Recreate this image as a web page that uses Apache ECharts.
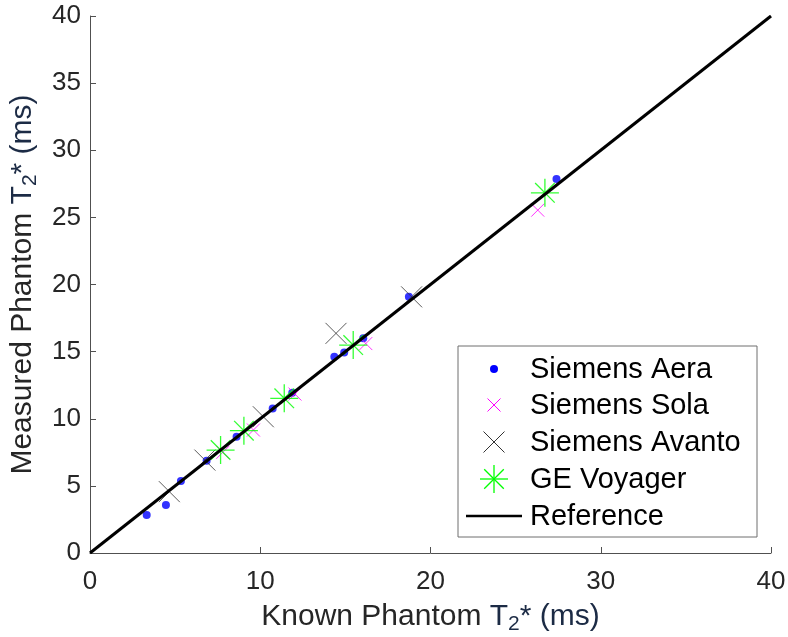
<!DOCTYPE html>
<html><head><meta charset="utf-8">
<script src="https://cdn.jsdelivr.net/npm/echarts@6/dist/echarts.min.js"></script>
<style>html,body{margin:0;padding:0;background:#fff}#c{width:788px;height:637px}</style>
</head><body><div id="c"></div>
<script>
const seriesNames = ['Siemens Aera', 'Siemens Sola', 'Siemens Avanto', 'GE Voyager', 'Reference'];
const xTicks = [0, 10, 20, 30, 40];
const yTicks = [0, 5, 10, 15, 20, 25, 30, 35, 40];
const aeraKnown    = [3.33, 4.46, 5.34, 6.85, 8.61, 10.73, 11.88, 14.35, 14.93, 16.05, 18.73, 27.40];
const aeraMeasured = [2.83, 3.57, 5.36, 6.87, 8.66, 10.77, 11.94, 14.62, 14.94, 15.99, 19.08, 27.85];
const solaKnown    = [7.80, 9.60, 12.04, 16.20, 26.30];
const solaMeasured = [7.50, 9.16, 11.84, 15.60, 25.54];
const avantoKnown    = [4.66, 6.75, 10.18, 14.45, 18.89];
const avantoMeasured = [4.57, 6.92, 10.15, 16.36, 19.08];
const geKnown    = [7.67, 9.04, 11.41, 15.46, 26.72];
const geMeasured = [7.67, 9.11, 11.52, 15.49, 26.83];
const refKnown    = [0, 40];
const refMeasured = [0, 40];

const zip = (a, b) => a.map((v, i) => [v, b[i]]);
const XPATH = 'path://M0,0L10,10M10,0L0,10';
const STARPATH = 'path://M0,-10L0,10M-10,0L10,0M-7,-7L7,7M7,-7L-7,7';
const FONT = 'Liberation Sans';
const DARK = '#262626';
const NAVY = '#1c2b45';
const AXIS = '#505050';

const chart = echarts.init(document.getElementById('c'), null, {renderer: 'canvas'});

const titleRich = {
  a: {fontFamily: FONT, fontSize: 30, color: DARK, lineHeight: 36, verticalAlign: 'middle'},
  b: {fontFamily: FONT, fontSize: 30, color: NAVY, lineHeight: 36, verticalAlign: 'middle'},
  s: {fontFamily: FONT, fontSize: 21, color: NAVY, lineHeight: 14, verticalAlign: 'bottom'}
};

// legend drawn as graphic elements
const legendX = 458, legendY = 346, legendW = 299, legendH = 191;
const rowY = [369, 405, 442, 479, 516];
const mk = 494;
function seg(x1, y1, x2, y2, color, w) {
  return {type: 'line', shape: {x1, y1, x2, y2}, style: {stroke: color, lineWidth: w}, z: 101};
}
const graphics = [
  {type: 'rect', shape: {x: legendX, y: legendY, width: legendW, height: legendH},
   style: {fill: '#fff', stroke: '#6e6e6e', lineWidth: 1}, z: 100},
  {type: 'circle', shape: {cx: mk, cy: rowY[0], r: 4}, style: {fill: '#0000ff'}, z: 101},
  seg(mk - 6.5, rowY[1] - 6.5, mk + 6.5, rowY[1] + 6.5, '#ff00ff', 1),
  seg(mk + 6.5, rowY[1] - 6.5, mk - 6.5, rowY[1] + 6.5, '#ff00ff', 1),
  seg(mk - 10.5, rowY[2] - 10.5, mk + 10.5, rowY[2] + 10.5, '#333333', 1),
  seg(mk + 10.5, rowY[2] - 10.5, mk - 10.5, rowY[2] + 10.5, '#333333', 1),
  seg(mk, rowY[3] - 14, mk, rowY[3] + 14, '#00ff00', 1.3),
  seg(mk - 14, rowY[3], mk + 14, rowY[3], '#00ff00', 1.3),
  seg(mk - 9.8, rowY[3] - 9.8, mk + 9.8, rowY[3] + 9.8, '#00ff00', 1.3),
  seg(mk + 9.8, rowY[3] - 9.8, mk - 9.8, rowY[3] + 9.8, '#00ff00', 1.3),
  seg(466, rowY[4], 522, rowY[4], '#000000', 2.5)
];
seriesNames.forEach((n, i) => {
  graphics.push({type: 'text', x: 530, y: rowY[i] + 1, z: 102,
    style: {text: n, fontFamily: FONT, fontSize: 29, fill: '#000', verticalAlign: 'middle', align: 'left'}});
});

chart.setOption({
  animation: false,
  backgroundColor: '#fff',
  grid: {left: 90, right: 17, top: 16, bottom: 84, containLabel: false, outerBoundsMode: 'none'},
  xAxis: {
    type: 'value', min: xTicks[0], max: xTicks[xTicks.length - 1], interval: xTicks[1] - xTicks[0],
    axisLine: {show: true, onZero: false, lineStyle: {color: AXIS, width: 1}},
    axisTick: {show: true, inside: true, length: 6, lineStyle: {color: AXIS}},
    splitLine: {show: false},
    axisLabel: {fontFamily: FONT, fontSize: 26, color: DARK, margin: 16},
    name: '{a|Known Phantom }{b|T}{s|2}{b|* (ms)}',
    nameLocation: 'middle', nameGap: 46,
    nameTextStyle: {rich: titleRich}
  },
  yAxis: {
    type: 'value', min: yTicks[0], max: yTicks[yTicks.length - 1], interval: yTicks[1] - yTicks[0],
    axisLine: {show: true, onZero: false, lineStyle: {color: AXIS, width: 1}},
    axisTick: {show: true, inside: true, length: 6, lineStyle: {color: AXIS}},
    splitLine: {show: false},
    axisLabel: {fontFamily: FONT, fontSize: 26, color: DARK, margin: 9},
    name: '{a|Measured Phantom }{b|T}{s|2}{b|* (ms)}',
    nameLocation: 'middle', nameGap: 47,
    nameTextStyle: {rich: titleRich}
  },
  graphic: graphics,
  series: [
    {name: seriesNames[0], type: 'scatter', data: zip(aeraKnown, aeraMeasured), symbol: 'circle', symbolSize: 8,
     itemStyle: {color: '#0000ff'}, z: 2, emphasis: {disabled: true}},
    {name: seriesNames[1], type: 'scatter', data: zip(solaKnown, solaMeasured), symbol: XPATH, symbolSize: 13,
     itemStyle: {color: 'rgba(0,0,0,0)', borderColor: '#ff00ff', borderWidth: 1}, z: 3, emphasis: {disabled: true}},
    {name: seriesNames[2], type: 'scatter', data: zip(avantoKnown, avantoMeasured), symbol: XPATH, symbolSize: 21,
     itemStyle: {color: 'rgba(0,0,0,0)', borderColor: '#333333', borderWidth: 1}, z: 4, emphasis: {disabled: true}},
    {name: seriesNames[3], type: 'scatter', data: zip(geKnown, geMeasured), symbol: STARPATH, symbolSize: 28,
     itemStyle: {color: 'rgba(0,0,0,0)', borderColor: '#00ff00', borderWidth: 1.3}, z: 5, emphasis: {disabled: true}},
    {name: seriesNames[4], type: 'line', data: zip(refKnown, refMeasured), showSymbol: false, symbol: 'none',
     lineStyle: {color: '#000', width: 3}, z: 6, emphasis: {disabled: true}}
  ]
});
</script></body></html>
